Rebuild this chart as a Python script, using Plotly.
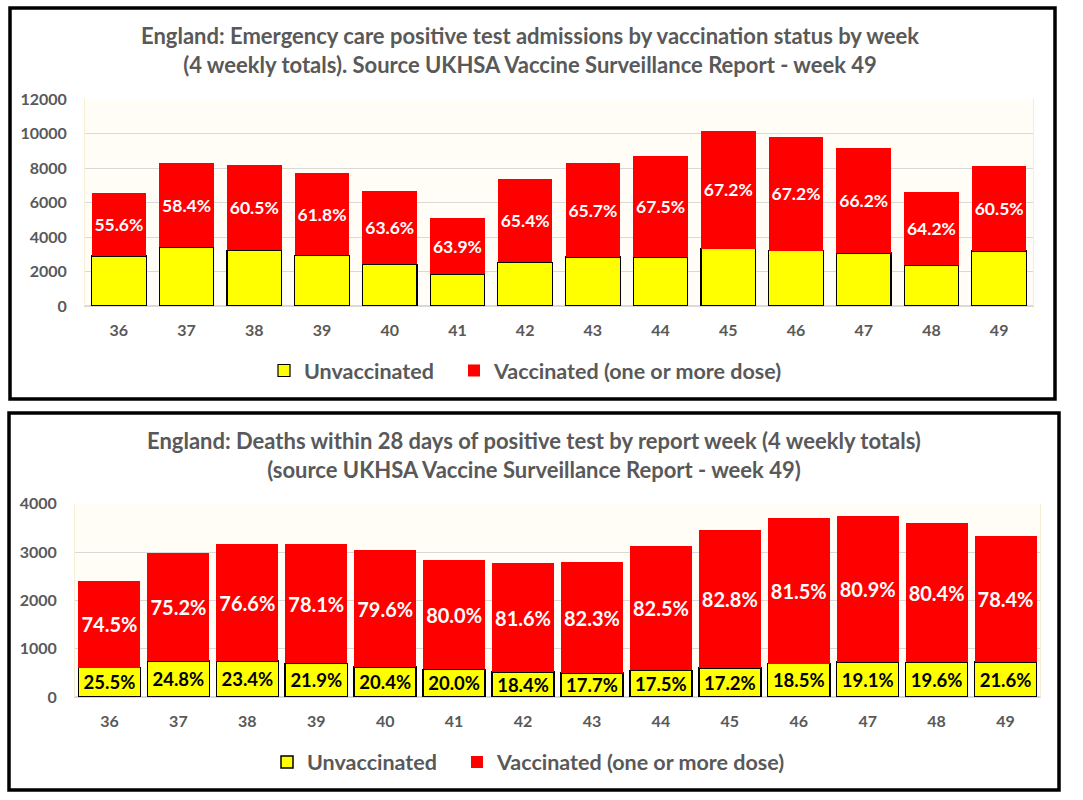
import plotly.graph_objects as go

weeks = ["36", "37", "38", "39", "40", "41", "42", "43", "44", "45", "46", "47", "48", "49"]

# Top chart: emergency care positive test admissions (4 weekly totals)
adm_unvacc = [2900, 3420, 3230, 2940, 2420, 1840, 2540, 2840, 2830, 3330, 3220, 3080, 2360, 3190]
adm_vacc = [3680, 4880, 4960, 4780, 4260, 3270, 4830, 5460, 5880, 6830, 6590, 6090, 4260, 4940]
adm_vacc_pct = ["55.6%", "58.4%", "60.5%", "61.8%", "63.6%", "63.9%", "65.4%",
                "65.7%", "67.5%", "67.2%", "67.2%", "66.2%", "64.2%", "60.5%"]

# Bottom chart: deaths within 28 days of positive test (4 weekly totals)
death_unvacc = [610, 740, 740, 695, 620, 570, 515, 495, 550, 600, 690, 720, 715, 720]
death_vacc = [1790, 2240, 2425, 2470, 2420, 2265, 2255, 2300, 2575, 2855, 3010, 3025, 2885, 2610]
death_unvacc_pct = ["25.5%", "24.8%", "23.4%", "21.9%", "20.4%", "20.0%", "18.4%",
                    "17.7%", "17.5%", "17.2%", "18.5%", "19.1%", "19.6%", "21.6%"]
death_vacc_pct = ["74.5%", "75.2%", "76.6%", "78.1%", "79.6%", "80.0%", "81.6%",
                  "82.3%", "82.5%", "82.8%", "81.5%", "80.9%", "80.4%", "78.4%"]

title_top = ("England: Emergency care positive test admissions by vaccination status by week<br>"
             "(4 weekly totals). Source UKHSA Vaccine Surveillance Report - week 49")
title_bottom = ("England: Deaths within 28 days of positive test by report week (4 weekly totals)<br>"
                "(source UKHSA Vaccine Surveillance Report - week 49)")

W, H = 1083, 800
FONT = "Lato"
GREY = "#595959"
YELLOW = "#FFFF00"
RED = "#FF0000"


def px(x):
    return x / W


def py(y):
    return 1 - y / H


fig = go.Figure()

# ---- top chart ----
fig.add_trace(go.Bar(
    x=weeks, y=adm_unvacc, name="Unvaccinated", xaxis="x", yaxis="y",
    marker=dict(color=YELLOW, line=dict(color="black", width=1.2)),
    legend="legend", hoverinfo="skip", width=0.805,
))
fig.add_trace(go.Bar(
    x=weeks, y=adm_vacc, name="Vaccinated (one or more dose)", xaxis="x", yaxis="y",
    marker=dict(color=RED, line=dict(width=0)),
    text=adm_vacc_pct, textposition="inside", insidetextanchor="middle",
    textangle=0, constraintext="none",
    textfont=dict(family=FONT, size=17.5, color="white", weight="bold"),
    legend="legend2", hoverinfo="skip", width=0.805,
))

# ---- bottom chart ----
fig.add_trace(go.Bar(
    x=weeks, y=death_unvacc, name="Unvaccinated", xaxis="x2", yaxis="y2",
    marker=dict(color=YELLOW, line=dict(color="black", width=1.5)),
    text=death_unvacc_pct, textposition="inside", insidetextanchor="middle",
    textangle=0, constraintext="none",
    textfont=dict(family=FONT, size=18.5, color="black", weight="bold"),
    legend="legend3", hoverinfo="skip", width=0.9,
))
fig.add_trace(go.Bar(
    x=weeks, y=death_vacc, name="Vaccinated (one or more dose)", xaxis="x2", yaxis="y2",
    marker=dict(color=RED, line=dict(width=0)),
    text=death_vacc_pct, textposition="inside", insidetextanchor="middle",
    textangle=0, constraintext="none",
    textfont=dict(family=FONT, size=20, color="white", weight="bold"),
    legend="legend4", hoverinfo="skip", width=0.9,
))

tickfont = dict(family=FONT, size=16, color=GREY, weight="bold")
axis_common = dict(showgrid=False, ticks="", tickfont=tickfont, type="category",
                   showline=True, linecolor="#D9D9D9", linewidth=1, fixedrange=True,
                   ticklabelstandoff=10, automargin=False)
yaxis_common = dict(showgrid=True, gridcolor="#D9D9D9", gridwidth=1, ticks="",
                    tickfont=tickfont, zeroline=True, zerolinecolor="#D9D9D9",
                    showline=True, mirror=True, linecolor="#F6EDD6", linewidth=1,
                    fixedrange=True, ticklabelstandoff=14, tickformat="d",
                    automargin=False)

legend_common = dict(orientation="h", font=dict(family=FONT, size=21.5, color=GREY, weight="bold"),
                     bgcolor="rgba(0,0,0,0)", itemwidth=30,
                     xanchor="left", yanchor="middle",
                     itemclick=False, itemdoubleclick=False)

fig.update_layout(
    width=W, height=H,
    margin=dict(l=0, r=0, t=0, b=0, pad=0, autoexpand=False),
    paper_bgcolor="white",
    plot_bgcolor="#FFFDF6",
    barmode="stack",
    font=dict(family=FONT, color=GREY),
    xaxis=dict(domain=[px(85), px(1033)], anchor="y", **axis_common),
    yaxis=dict(domain=[py(306), py(99.3)], anchor="x", range=[0, 12000], dtick=2000, **yaxis_common),
    xaxis2=dict(domain=[px(75), px(1040)], anchor="y2", **axis_common),
    yaxis2=dict(domain=[py(697), py(503.7)], anchor="x2", range=[0, 4000], dtick=1000, **yaxis_common),
    legend=dict(x=px(264), y=py(370.5), **legend_common),
    legend2=dict(x=px(454), y=py(370.5), **legend_common),
    legend3=dict(x=px(267), y=py(762), **legend_common),
    legend4=dict(x=px(457), y=py(762), **legend_common),
    showlegend=True,
    annotations=[
        dict(text=title_top, x=px(530), y=py(50), xref="paper", yref="paper",
             xanchor="center", yanchor="middle", showarrow=False,
             font=dict(family=FONT, size=22, color=GREY, weight="bold")),
        dict(text=title_bottom, x=px(534), y=py(455), xref="paper", yref="paper",
             xanchor="center", yanchor="middle", showarrow=False,
             font=dict(family=FONT, size=22, color=GREY, weight="bold")),
    ],
    shapes=[
        dict(type="rect", xref="paper", yref="paper",
             x0=px(10), x1=px(1055), y0=py(399), y1=py(8),
             line=dict(color="black", width=3.5), fillcolor="rgba(0,0,0,0)"),
        dict(type="rect", xref="paper", yref="paper",
             x0=px(9), x1=px(1059), y0=py(790), y1=py(413),
             line=dict(color="black", width=3.5), fillcolor="rgba(0,0,0,0)"),
    ],
)

fig.write_html("out.html", config={"displayModeBar": False},
               post_script="document.body.style.margin='0';")
